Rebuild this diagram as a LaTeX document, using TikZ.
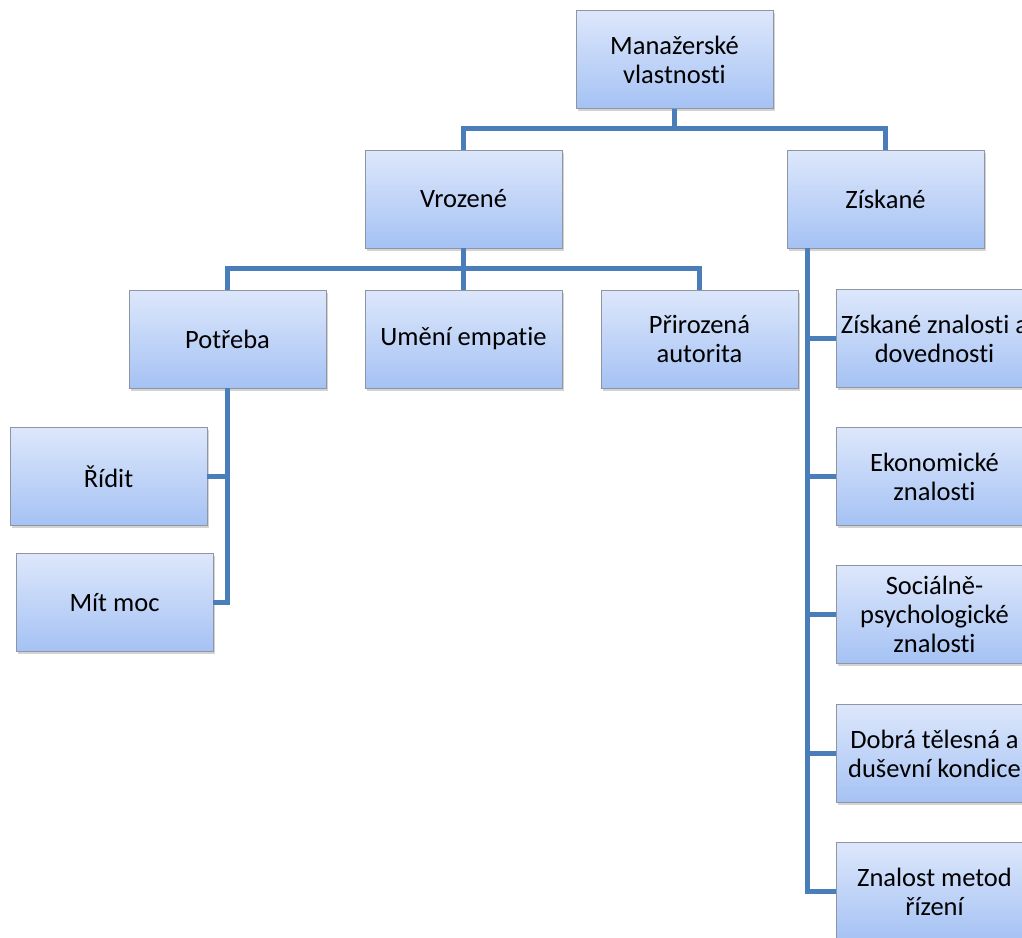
\documentclass[tikz,border=0pt]{standalone}
\usepackage{fontspec}
\setmainfont{Carlito}[Ligatures={NoCommon}]
\usetikzlibrary{shadows}
\definecolor{linkblue}{HTML}{4A7EBB}
\definecolor{boxtop}{HTML}{DDE7FB}
\definecolor{boxbot}{HTML}{A5C2F4}
\definecolor{boxrim}{HTML}{8E96A3}
\begin{document}
\begin{tikzpicture}[x=1pt,y=-1pt,%
	orgbox/.style={draw=boxrim, line width=0.8pt,%
		top color=boxtop, bottom color=boxbot,%
		minimum width=197pt, minimum height=98pt,%
		align=center, inner sep=2pt, text=black,%
		font=\fontsize{26.5}{29}\selectfont,%
		drop shadow={shadow xshift=2pt, shadow yshift=-2.5pt, opacity=.35}},%
	link/.style={draw=linkblue, line width=5pt}]
	\useasboundingbox (0,0) rectangle (1022,937);
	\clip (0,0) rectangle (1022,937);
	% top
	\node[orgbox] (root) at (674.5,59.5) {Manažerské\\vlastnosti};
	\node[orgbox] (vroz) at (463.5,199) {Vrozené};
	\node[orgbox] (zisk) at (885.5,199) {Získané};
	% vrozene
	\node[orgbox] (potr) at (227.5,339) {Potřeba};
	\node[orgbox] (empa) at (463.5,339) {Umění empatie};
	\node[orgbox] (auto) at (699.5,339) {Přirozená\\autorita};
	\node[orgbox] (ridi) at (108.5,476.5) {Řídit};
	\node[orgbox] (moc) at (114.5,602.5) {Mít moc};
	% ziskane
	\node[orgbox] (zn1) at (934.5,338.5) {Získané znalosti a\\dovednosti};
	\node[orgbox] (zn2) at (934.5,476.5) {Ekonomické\\znalosti};
	\node[orgbox] (zn3) at (934.5,614.5) {Sociálně-\\psychologické\\znalosti};
	\node[orgbox] (zn4) at (934.5,753.5) {Dobrá tělesná a\\duševní kondice};
	\node[orgbox] (zn5) at (934.5,891.5) {Znalost metod\\řízení};
	% connectors
	\draw[link] (root.south) -- ++(0,19.5) -| (vroz.north);
	\draw[link] (root.south) -- ++(0,19.5) -| (zisk.north);
	\draw[link] (vroz.south) -- ++(0,20) -| (potr.north);
	\draw[link] (vroz.south) -- ++(0,20) -| (auto.north);
	\draw[link] (vroz.south) -- (empa.north);
	\draw[link] (potr.south) |- (ridi.east);
	\draw[link] (potr.south) |- (moc.east);
	\foreach \n in {zn1,zn2,zn3,zn4,zn5}
		\draw[link] ([xshift=21pt]zisk.south west) |- (\n.west);
\end{tikzpicture}
\end{document}
